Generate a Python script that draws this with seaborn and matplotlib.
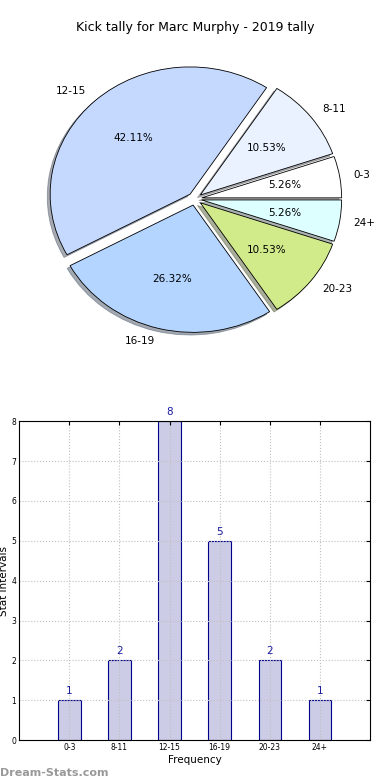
import matplotlib
matplotlib.use("Agg")
import matplotlib.pyplot as plt
import seaborn as sns
import pandas as pd

# Data
bins = ["0-3", "8-11", "12-15", "16-19", "20-23", "24+"]
counts = [1, 2, 8, 5, 2, 1]
slice_colors = ["#ffffff", "#eaf1ff", "#c5d9ff", "#b3d5ff", "#d1eb8a", "#ddffff"]

df = pd.DataFrame({"bin": bins, "count": counts})

sns.set_style("white")
plt.rcParams["font.family"] = ["DejaVu Sans"]
plt.rcParams["text.color"] = "black"
plt.rcParams["axes.labelcolor"] = "black"
plt.rcParams["xtick.color"] = "black"
plt.rcParams["ytick.color"] = "black"

fig = plt.figure(figsize=(3.9, 7.8), dpi=100)

# Pie chart
ax1 = fig.add_axes([0.051, 0.541, 0.897, 0.408])
ax1.pie(
    df["count"],
    labels=df["bin"],
    colors=slice_colors,
    explode=[0.05] * len(bins),
    autopct="%.2f%%",
    shadow={"ox": -0.015, "oy": -0.015, "shade": 0.6},
    startangle=0,
    wedgeprops={"edgecolor": "black", "linewidth": 0.6},
    textprops={"fontsize": 7.5, "color": "black"},
)
ax1.set_aspect("auto")
ax1.set_xlim(-1.25, 1.25)
ax1.set_ylim(-1.25, 1.25)
ax1.set_title("Kick tally for Marc Murphy - 2019 tally", fontsize=9, pad=6, color="black")

# Bar chart
ax2 = fig.add_axes([0.049, 0.051, 0.9, 0.409])
sns.barplot(
    data=df,
    x="bin",
    y="count",
    color="#ccccE6",
    saturation=1,
    edgecolor="#00008b",
    linewidth=0.8,
    width=0.45,
    ax=ax2,
)
for i, c in enumerate(counts):
    ax2.text(i, c + 0.1, str(c), ha="center", va="bottom", color="#1a1aa0", fontsize=7.5)

ax2.set_xlim(-1, 6)
ax2.set_ylim(0, 8)
ax2.set_yticks(range(0, 9))
ax2.grid(True, linestyle=":", color="#c0c0c0", linewidth=0.8)
ax2.set_axisbelow("line")
ax2.tick_params(direction="in", labelsize=5.5, top=True, right=True, length=3, pad=2)
for s in ax2.spines.values():
    s.set_linewidth(0.8)
    s.set_color("black")
    s.set_zorder(3)
ax2.set_xlabel("Frequency", fontsize=7.5, labelpad=2)
ax2.set_ylabel("Stat Intervals", fontsize=7.5)
ax2.yaxis.set_label_coords(-0.028, 0.5)

fig.text(0.0, 0.005, "Dream-Stats.com", color="#999999", fontsize=8, fontweight="bold")

fig.savefig("out.png", dpi=100)
